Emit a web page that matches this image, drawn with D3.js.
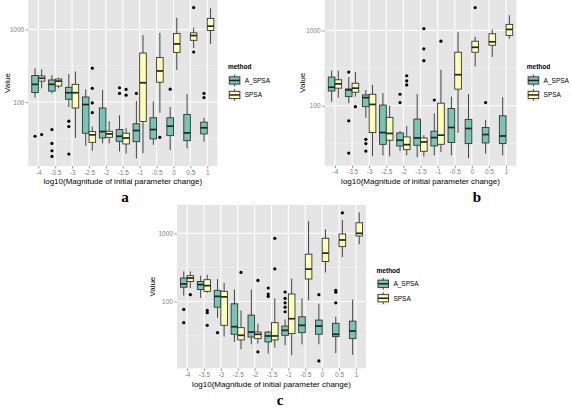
<!DOCTYPE html>
<html><head><meta charset="utf-8">
<script src="https://cdn.jsdelivr.net/npm/d3@7"></script>
<style>body{margin:0;background:#fff}svg{display:block}</style>
</head><body>
<svg id="chart" width="572" height="410"></svg>
<script>
const categories = ["-4","-3.5","-3","-2.5","-2","-1.5","-1","-0.5","0","0.5","1"];
const methods = ["A_SPSA","SPSA"];
const yTickValues = [100, 1000];
const yMinorValues = [31.6228, 316.228];
const xTitle = "log10(Magnitude of initial parameter change)";
const yTitle = "Value";
const legendTitle = "method";

// Each entry: [lower whisker, Q1, median, Q3, upper whisker]
const aStatsA = [[115,135,175,231,292],[131,141,175,201,236],[85,109,134,159,243],[24.9,37,92,117,149],[26.8,31.8,39,82.5,146],[20.7,28.6,33.6,41.6,65.3],[16.6,28.3,40.3,50,103],[25.7,30.9,41.6,60.5,102],[21.7,34.3,46.3,60.5,85],[22.8,29.2,37.4,67.3,128],[28.3,36.2,44,52.6,60.5]];
const aOutA = [[33.6],[41.6,26.8,21.2,17.7],[54.3,45.8,19.1],[],[],[157,131],[131],[],[150],[],[131,115]];
const aStatsS = [[154,194,212,228,283],[154,166,194,207,216],[31.8,82.5,134,175,262],[21.2,27.7,35.1,39,45.8],[26.8,32.5,36.2,39.4,54.3],[19.4,26.3,31.8,37,43.4],[19.7,53.8,184,473,833],[71.1,187,268,411,899],[277,482,632,879,1456],[556,709,824,899,1056],[632,968,1111,1423,1963]];
const aOutS = [[35.4],[],[],[292,154,96.8,71.1],[],[149,124],[],[32.5],[],[2008,489],[]];

const bStatsA = [[113,157,176,240,292],[108,132,162,167,240],[69,97,128,139,162],[21.9,30.7,44,102,147],[25,29.2,34.8,43.5,46.2],[20.8,29.8,37.3,66.4,143],[21.9,29.2,37.7,45.8,79],[21.9,32.4,51.4,92,132],[20.1,31.4,49.8,65.8,143],[23.1,32,41.4,51.4,64.4],[21.9,31.4,39.6,73.5,130]];
const bOutA = [[],[280,63,23.5],[35.8,31.4,25],[],[142,110],[],[119],[],[],[110],[]];
const bStatsS = [[128,171,195,221,292],[132,151,171,199,280],[21.4,44,104,142,189],[21.2,34.8,42.8,70,100],[21.9,26.1,30.4,38.5,53.5],[21.2,24.8,33,37.3,40.6],[24.2,30.7,40.6,108,300],[43.5,166,258,513,948],[333,513,597,719,824],[444,635,706,903,1031],[774,857,1031,1203,1589]];
const bOutS = [[],[97],[],[],[250,214,189],[1054,569,396],[719],[],[2014],[],[]];

const cStatsA = [[122,162,181,221,276],[113,150,177,197,239],[58,82.6,119,146,214],[25.6,33.1,42.8,92.6,150],[23.6,30.2,35.7,63.2,150],[17.3,25.6,31.3,35.7,37],[22.9,32,37.8,43.7,54.7],[23.6,35,44.8,59.8,111],[23.6,33.1,43.7,53.5,92.6],[17.5,30.6,33.1,47.9,59.8],[16.5,28.6,37,51.6,107]];
const cOutA = [[76.5,49],[],[35],[],[],[158,129,119],[138,111,95.7,82.6,70.8],[],[126,13.5],[146,137,95.7],[]];
const cStatsS = [[158,197,221,239,276],[134,141,171,209,247],[30.6,44.8,117,141,187],[20,27.4,32,41.4,74],[24.2,28.6,33.1,35.7,47.3],[21.2,27.4,31.3,49,111],[16.4,33.9,56,129,216],[104,214,299,494,1510],[267,386,512,845,1143],[448,638,798,977,1563],[692,914,1000,1426,2023]];
const cOutS = [[126],[74,68.5,44.8],[],[267],[204,18.3],[845,302],[],[],[],[1995],[]];

const fills = ["#72C8B2", "#FFFFB3"];
const FONT = "'Liberation Sans', Arial, Helvetica, sans-serif";

const panels = [
  {label:"a", stats:[aStatsA,aStatsS], outs:[aOutA,aOutS], left:28.2, right:217.4, top:0, bottom:166, yTitleX:7, legTop:66.7, labelX:125, labelY:202},
  {label:"b", stats:[bStatsA,bStatsS], outs:[bOutA,bOutS], left:324.7, right:516.3, top:0, bottom:165.7, yTitleX:302, legTop:66.7, labelX:477, labelY:202},
  {label:"c", stats:[cStatsA,cStatsS], outs:[cOutA,cOutS], left:176.9, right:366.1, top:205, bottom:368.3, yTitleX:152, legTop:270, labelX:280, labelY:405}
];

const svg = d3.select("#chart");

function drawPanel(p){
  const g = svg.append("g");
  const all = [];
  p.stats.forEach(s => s.forEach(r => all.push(...r)));
  p.outs.forEach(s => s.forEach(r => all.push(...r)));
  const lo = Math.log10(d3.min(all)), hi = Math.log10(d3.max(all)), pad = (hi-lo)*0.05;
  const y = d3.scaleLog().domain([10**(lo-pad), 10**(hi+pad)]).range([p.bottom, p.top]);
  const x = d3.scalePoint().domain(categories).range([p.left, p.right]).padding(0.6);
  const step = x.step();

  g.append("rect").attr("x",p.left).attr("y",p.top).attr("width",p.right-p.left).attr("height",p.bottom-p.top).attr("fill","#E5E5E5");
  yMinorValues.forEach(v => {
    g.append("line").attr("x1",p.left).attr("x2",p.right).attr("y1",y(v)).attr("y2",y(v)).attr("stroke","#F2F2F2").attr("stroke-width",0.6);
  });
  yTickValues.forEach(v => {
    g.append("line").attr("x1",p.left).attr("x2",p.right).attr("y1",y(v)).attr("y2",y(v)).attr("stroke","#FFFFFF").attr("stroke-width",1.1);
  });
  categories.forEach(c => {
    g.append("line").attr("x1",x(c)).attr("x2",x(c)).attr("y1",p.top).attr("y2",p.bottom).attr("stroke","#FFFFFF").attr("stroke-width",1.1);
  });

  const bw = 0.39*step;
  methods.forEach((m, mi) => {
    const off = (mi - 0.5)*bw;
    p.stats[mi].forEach((s, i) => {
      const cx = x(categories[i]) + off;
      const bg = g.append("g");
      bg.append("line").attr("x1",cx).attr("x2",cx).attr("y1",y(s[0])).attr("y2",y(s[1])).attr("stroke","#333").attr("stroke-width",0.9);
      bg.append("line").attr("x1",cx).attr("x2",cx).attr("y1",y(s[3])).attr("y2",y(s[4])).attr("stroke","#333").attr("stroke-width",0.9);
      bg.append("rect").attr("x",cx-bw/2).attr("width",bw).attr("y",y(s[3])).attr("height",y(s[1])-y(s[3]))
        .attr("fill",fills[mi]).attr("stroke","#333").attr("stroke-width",0.9);
      bg.append("line").attr("x1",cx-bw/2).attr("x2",cx+bw/2).attr("y1",y(s[2])).attr("y2",y(s[2])).attr("stroke","#222").attr("stroke-width",1.7);
      p.outs[mi][i].forEach(o => {
        bg.append("circle").attr("cx",cx).attr("cy",y(o)).attr("r",1.6).attr("fill","#000");
      });
    });
  });

  // axes
  const ya = g.append("g").attr("transform",`translate(${p.left},0)`)
    .call(d3.axisLeft(y).tickValues(yTickValues).tickFormat(d3.format("d")).tickSize(2.5).tickPadding(1.5));
  const xa = g.append("g").attr("transform",`translate(0,${p.bottom})`)
    .call(d3.axisBottom(x).tickSize(2.5).tickPadding(1.5));
  [ya, xa].forEach(a => {
    a.select(".domain").remove();
    a.selectAll(".tick line").attr("stroke","#7F7F7F").attr("stroke-width",0.8);
    a.selectAll(".tick text").attr("fill","#7F7F7F").style("font-size","6.5px").style("font-family",FONT);
  });

  g.append("text").attr("transform",`translate(${p.yTitleX},${(p.top+p.bottom)/2}) rotate(-90)`)
    .attr("text-anchor","middle").attr("dominant-baseline","central")
    .style("font-size","8px").style("font-family",FONT).text(yTitle);
  g.append("text").attr("x",(p.left+p.right)/2).attr("y",p.bottom+15.7)
    .attr("text-anchor","middle").attr("dominant-baseline","central")
    .style("font-size","8px").style("font-family",FONT).text(xTitle);

  // legend
  const lx = p.right + 10.5;
  g.append("text").attr("x",lx).attr("y",p.legTop).attr("dominant-baseline","central")
    .style("font-size","6.5px").style("font-weight","bold").style("font-family",FONT).text(legendTitle);
  const kw = 13.3, kh = 14.5;
  methods.forEach((m, mi) => {
    const ky = p.legTop + 6.5 + mi*kh;
    g.append("rect").attr("x",lx).attr("y",ky).attr("width",kw).attr("height",kh).attr("fill","#F2F2F2").attr("stroke","#FFFFFF").attr("stroke-width",1);
    const kcx = lx + kw/2;
    g.append("line").attr("x1",kcx).attr("x2",kcx).attr("y1",ky+kh*0.1).attr("y2",ky+kh*0.9).attr("stroke","#333").attr("stroke-width",0.9);
    g.append("rect").attr("x",lx+kw*0.1).attr("y",ky+kh*0.25).attr("width",kw*0.8).attr("height",kh*0.5)
      .attr("fill",fills[mi]).attr("stroke","#333").attr("stroke-width",0.9);
    g.append("line").attr("x1",lx+kw*0.1).attr("x2",lx+kw*0.9).attr("y1",ky+kh/2).attr("y2",ky+kh/2).attr("stroke","#222").attr("stroke-width",1.5);
    g.append("text").attr("x",lx+kw+3.5).attr("y",ky+kh/2).attr("dominant-baseline","central")
      .style("font-size","6.5px").style("font-family",FONT).text(m);
  });

  svg.append("text").attr("x",p.labelX).attr("y",p.labelY).attr("text-anchor","middle")
    .style("font-size","15px").style("font-weight","bold").style("font-family","'Liberation Serif', 'Times New Roman', serif").text(p.label);
}

panels.forEach(drawPanel);
</script>
</body></html>
